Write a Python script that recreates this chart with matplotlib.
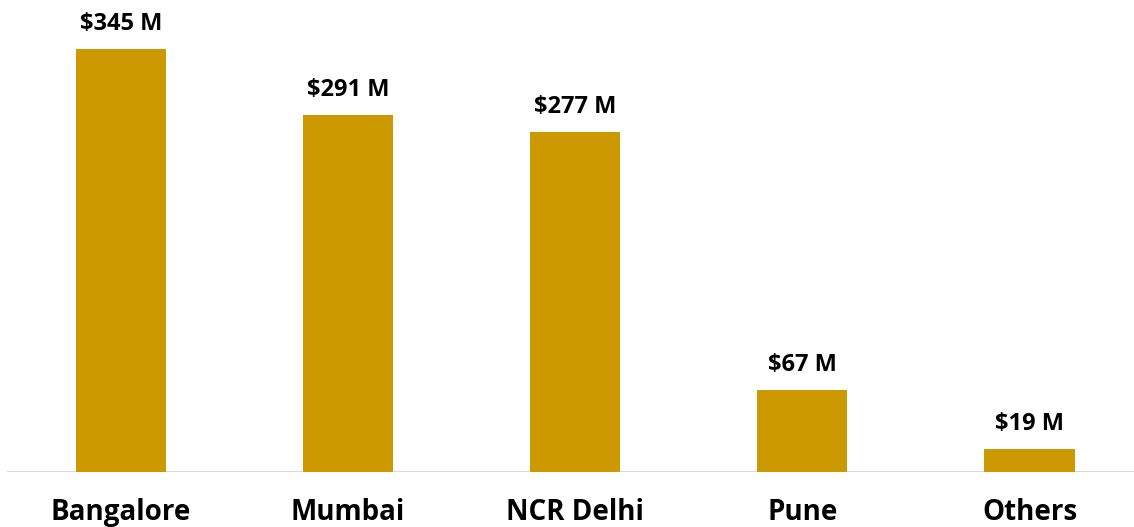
import matplotlib
matplotlib.use("Agg")
import matplotlib.pyplot as plt

cities = ["Bangalore", "Mumbai", "NCR Delhi", "Pune", "Others"]
values = [345, 291, 277, 67, 19]
labels = ["$345 M", "$291 M", "$277 M", "$67 M", "$19 M"]

plt.rcParams['font.family'] = ['Open Sans', 'DejaVu Sans']

fig = plt.figure(figsize=(11.34, 5.27), dpi=100)
ax = fig.add_axes([7/1134, 55/527, 1 - 7/1134, 1 - 55/527])

x = list(range(len(cities)))
bars = ax.bar(x, values, width=0.397, color="#CC9900", zorder=2)

for xi, v, lab in zip(x, values, labels):
    ax.annotate(lab, (xi, v), xytext=(0, 13), textcoords="offset pixels",
                ha="center", va="bottom", fontsize=17, fontweight="bold", color="black")

ax.set_xlim(-0.502, 4.46)
ax.set_ylim(0, 385)
for s in ax.spines.values():
    s.set_visible(False)
ax.axhline(0, color="#D9D9D9", linewidth=1.5, zorder=1)
ax.set_yticks([])
ax.set_xticks(x)
ax.set_xticklabels(cities, fontsize=20, fontweight="bold")
ax.tick_params(axis="x", length=0, pad=19)

fig.savefig("out.png", dpi=100)
